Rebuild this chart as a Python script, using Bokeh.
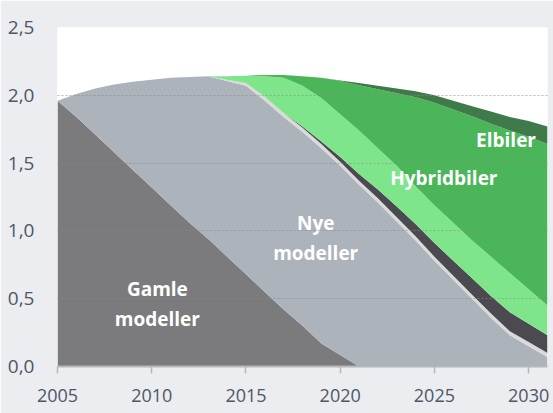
from bokeh.plotting import figure
from bokeh.models import ColumnDataSource, Range1d, FixedTicker
from bokeh.embed import file_html
from bokeh.resources import INLINE
from bokeh.core.properties import value

years = list(range(2005, 2032))
gamle_modeller = [1.96, 1.84, 1.71, 1.58, 1.45, 1.32, 1.19, 1.06, 0.94, 0.81, 0.68, 0.55, 0.42,
                  0.30, 0.17, 0.085, 0, 0, 0, 0, 0, 0, 0, 0, 0, 0, 0]
nye_modeller = [0.00, 0.17, 0.34, 0.50, 0.65, 0.795, 0.94, 1.075, 1.20, 1.295, 1.39, 1.41, 1.42,
                1.43, 1.44, 1.395, 1.34, 1.21, 1.07, 0.93, 0.78, 0.64, 0.50, 0.36, 0.23, 0.15, 0.07]
lysgraa = [0, 0, 0, 0, 0, 0, 0, 0, 0, 0.01, 0.02, 0.03, 0.03, 0.03, 0.03, 0.03, 0.03, 0.03,
           0.03, 0.03, 0.03, 0.03, 0.03, 0.03, 0.03, 0.03, 0.03]
moerk = [0, 0, 0, 0, 0, 0, 0, 0, 0, 0, 0, 0, 0, 0.01, 0.02, 0.035, 0.05, 0.065, 0.08, 0.09,
         0.10, 0.11, 0.12, 0.13, 0.14, 0.135, 0.13]
hybridbiler = [0, 0, 0, 0, 0, 0, 0, 0, 0, 0.025, 0.055, 0.15, 0.26, 0.30, 0.32, 0.315, 0.32,
               0.305, 0.30, 0.28, 0.28, 0.28, 0.28, 0.29, 0.29, 0.255, 0.22]
elbiler = [0, 0, 0, 0, 0, 0, 0, 0, 0, 0, 0, 0.01, 0.02, 0.07, 0.15, 0.245, 0.335, 0.435, 0.535,
           0.655, 0.755, 0.835, 0.915, 0.98, 1.05, 1.125, 1.19]
moerkgroenn = [0, 0, 0, 0, 0, 0, 0, 0, 0, 0, 0, 0, 0, 0, 0, 0.005, 0.015, 0.025, 0.035, 0.045,
               0.055, 0.065, 0.075, 0.09, 0.10, 0.115, 0.13]

x_ticks = [2005, 2010, 2015, 2020, 2025, 2030]
y_ticks = [0.0, 0.5, 1.0, 1.5, 2.0, 2.5]
y_tick_labels = ["0,0", "0,5", "1,0", "1,5", "2,0", "2,5"]

series = ["gamle", "nye", "lysgraa", "moerk", "hybrid", "el", "moerkgroenn"]
colors = ["#7b7b7d", "#adb3bb", "#dadada", "#4b4a50", "#7ee58b", "#4bb659", "#3f7a4b"]

source = ColumnDataSource(dict(year=years, gamle=gamle_modeller, nye=nye_modeller,
                               lysgraa=lysgraa, moerk=moerk, hybrid=hybridbiler,
                               el=elbiler, moerkgroenn=moerkgroenn))

label_text = ["Gamle\nmodeller", "Nye\nmodeller", "Hybridbiler", "Elbiler"]
label_x = [2010.3, 2018.7, 2025.5, 2028.8]
label_y = [0.461, 0.948, 1.387, 1.674]

bg = "#ebedf0"
p = figure(width=553, height=413, output_backend="svg", toolbar_location=None,
           x_range=Range1d(2005, 2031), y_range=Range1d(0, 2.5),
           min_border_left=57, min_border_right=6, min_border_top=27, min_border_bottom=47,
           background_fill_color="white", border_fill_color=bg, outline_line_color=None)

p.varea_stack(stackers=series, x="year", color=colors, source=source)

p.text(x=label_x, y=label_y, text=label_text, text_color="white",
       text_font=value("Open Sans"), text_font_style="bold", text_font_size="19px",
       text_align="center", text_baseline="middle", text_line_height=1.12)

p.xgrid.visible = False
p.ygrid.ticker = FixedTicker(ticks=y_ticks)
p.ygrid.grid_line_color = "#8a8a8a"
p.ygrid.grid_line_alpha = 0.6
p.ygrid.grid_line_dash = "2 2"
p.ygrid.grid_line_width = 1
p.ygrid.level = "overlay"

p.xaxis.ticker = FixedTicker(ticks=x_ticks)
p.xaxis.axis_line_color = "#b4b8bd"
p.xaxis.axis_line_width = 2
p.xaxis.major_tick_line_color = "#b4b8bd"
p.xaxis.major_tick_line_width = 1.5
p.xaxis.major_tick_out = 7
p.xaxis.major_tick_in = 0
p.xaxis.minor_tick_line_color = None
p.xaxis.major_label_standoff = 15

p.yaxis.ticker = FixedTicker(ticks=y_ticks)
p.yaxis.major_label_overrides = {t: l for t, l in zip(y_ticks, y_tick_labels)}
p.yaxis.axis_line_color = None
p.yaxis.major_tick_line_color = None
p.yaxis.major_tick_out = 0
p.yaxis.major_tick_in = 0
p.yaxis.minor_tick_line_color = None
p.yaxis.major_label_standoff = 23

for ax in (p.xaxis[0], p.yaxis[0]):
    ax.major_label_text_font = "Open Sans"
    ax.major_label_text_color = "#4e5766"
p.yaxis.major_label_text_font_size = "19px"
p.xaxis.major_label_text_font_size = "18px"

html = file_html(p, INLINE)
html = html.replace("<body>", '<body style="margin:0;background:%s">' % bg, 1)
open("out.html", "w").write(html)
